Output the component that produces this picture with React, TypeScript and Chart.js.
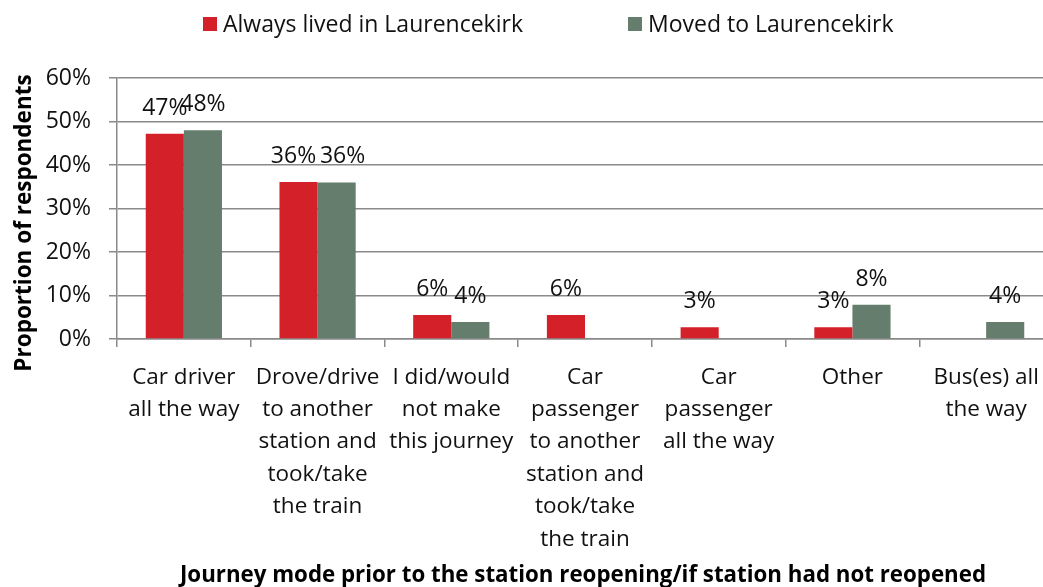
import React, { useEffect, useRef } from "react";
import { Chart, registerables } from "chart.js";

Chart.register(...registerables);

const categories: string[][] = [
  ["Car driver", "all the way"],
  ["Drove/drive", "to another", "station and", "took/take", "the train"],
  ["I did/would", "not make", "this journey"],
  ["Car", "passenger", "to another", "station and", "took/take", "the train"],
  ["Car", "passenger", "all the way"],
  ["Other"],
  ["Bus(es) all", "the way"],
];
const alwaysLived = [47.2, 36.1, 5.5, 5.5, 2.7, 2.7, 0];
const movedTo = [48.0, 36.0, 3.9, 0, 0, 7.9, 3.9];
const seriesNames = ["Always lived in Laurencekirk", "Moved to Laurencekirk"];
const seriesColors = ["#D42129", "#657D6C"];
const yTitle = "Proportion of respondents";
const xTitle = "Journey mode prior to the station reopening/if station had not reopened";

const FONT = "'Open Sans', sans-serif";
const GRID = "#8A8A8A";
const TEXT = "#111";
// small horizontal nudges of overlapping value labels (style only)
const labelNudge: Record<string, number> = { "0-1": -5, "1-1": 6 };

const extrasPlugin = {
  id: "extras",
  afterDatasetsDraw(chart: any) {
    const ctx = chart.ctx;
    ctx.save();
    ctx.fillStyle = TEXT;
    ctx.font = `23px ${FONT}`;
    ctx.textAlign = "center";
    ctx.textBaseline = "alphabetic";
    chart.data.datasets.forEach((ds: any, di: number) => {
      const meta = chart.getDatasetMeta(di);
      meta.data.forEach((el: any, i: number) => {
        const v = ds.data[i];
        if (!v) return;
        const dx = labelNudge[`${di}-${i}`] || 0;
        ctx.fillText(Math.round(v) + "%", el.x + dx, el.y - 19);
      });
    });
    ctx.restore();
  },
  afterDraw(chart: any) {
    const ctx = chart.ctx;
    ctx.save();
    // legend
    const legendX = [203, 628];
    ctx.font = `23px ${FONT}`;
    ctx.textBaseline = "middle";
    ctx.textAlign = "left";
    seriesNames.forEach((n, i) => {
      ctx.fillStyle = seriesColors[i];
      ctx.fillRect(legendX[i], 17, 14, 14);
      ctx.fillStyle = TEXT;
      ctx.fillText(n, legendX[i] + 20, 25);
    });
    // axis titles
    ctx.textAlign = "center";
    ctx.fillStyle = "#000";
    ctx.font = `bold 22.3px ${FONT}`;
    ctx.fillText(xTitle, 583, 576);
    ctx.font = `bold 22.5px ${FONT}`;
    ctx.translate(25, 223);
    ctx.rotate(-Math.PI / 2);
    ctx.fillText(yTitle, 0, 0);
    ctx.restore();
  },
};

export default function App() {
  const ref = useRef<HTMLCanvasElement>(null);
  useEffect(() => {
    if (!ref.current) return;
    const chart = new Chart(ref.current, {
      type: "bar",
      data: {
        labels: categories,
        datasets: [
          { label: seriesNames[0], data: alwaysLived, backgroundColor: seriesColors[0] },
          { label: seriesNames[1], data: movedTo, backgroundColor: seriesColors[1] },
        ],
      },
      options: {
        responsive: false,
        animation: false,
        layout: { padding: { top: 78, right: 7, left: 0, bottom: 0 } },
        datasets: { bar: { categoryPercentage: 0.57, barPercentage: 1.0 } },
        plugins: { legend: { display: false }, tooltip: { enabled: false } },
        scales: {
          x: {
            offset: true,
            grid: { offset: true, drawOnChartArea: false, drawTicks: true, tickLength: 8, color: GRID, lineWidth: 1.5 },
            border: { color: GRID, width: 1.5 },
            ticks: { color: TEXT, font: { family: FONT, size: 22.5, lineHeight: 1.44 }, padding: 14, maxRotation: 0, autoSkip: false },
            afterFit: (s: any) => { s.height = 587 - 339; },
          },
          y: {
            min: 0,
            max: 60,
            ticks: { stepSize: 10, color: TEXT, font: { family: FONT, size: 23 }, padding: 18, callback: (v: any) => v + "%" },
            grid: { color: GRID, lineWidth: 1.5, tickLength: 8 },
            border: { color: GRID, width: 1.5 },
            afterFit: (s: any) => { s.width = 117; },
          },
        },
      },
      plugins: [extrasPlugin],
    });
    return () => chart.destroy();
  }, []);
  return (
    <div style={{ position: "fixed", left: 0, top: 0, width: 1043, height: 587, overflow: "hidden", background: "#fff" }}>
      <canvas ref={ref} width={1060} height={587} style={{ width: 1060, height: 587, display: "block" }} />
    </div>
  );
}
